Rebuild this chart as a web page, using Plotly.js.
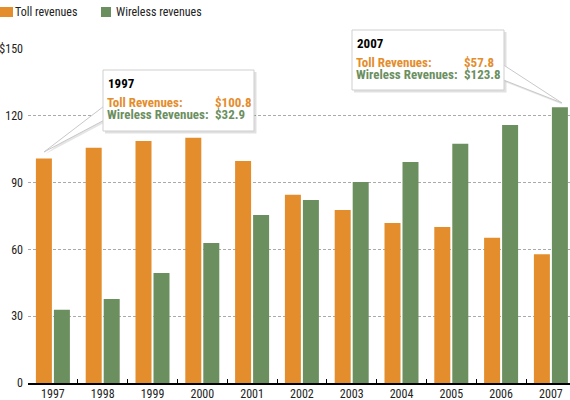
<!DOCTYPE html>
<html>
<head>
<meta charset="utf-8">
<script src="https://cdn.plot.ly/plotly-3.0.1.min.js"></script>
<style>html,body{margin:0;padding:0;background:#fff;overflow:hidden}#chart{width:570px;height:400px}</style>
</head>
<body>
<div id="chart"></div>
<script>
const years = ['1997','1998','1999','2000','2001','2002','2003','2004','2005','2006','2007'];
const tollRevenues = [100.8,105.6,108.7,110.1,99.7,84.5,77.7,71.9,70.1,65.2,57.8];
const wirelessRevenues = [32.9,37.7,49.4,62.9,75.5,82.2,90.3,99.3,107.4,115.9,123.8];
const seriesNames = ['Toll revenues','Wireless revenues'];
const calloutLabels = ['Toll Revenues:','Wireless Revenues:'];
const seriesColors = ['#E48D2D','#6C8F5F'];
const yTickVals = [0,30,60,90,120,150];
const yTickText = ['0','30','60','90','120','$150'];

const FONT = '"Roboto Condensed","Liberation Sans Narrow","Arial Narrow",sans-serif';
const W = 570, H = 400, ML = 28, MR = 0, MT = 49, MB = 17;
const PW = W - ML - MR, PH = H - MT - MB;
const px = x => (x - ML) / PW;
const py = y => (H - MB - y) / PH;
const catW = 49.8;
const xMax = -0.5 + PW / catW;

const traces = [
  {type:'bar', name:seriesNames[0], x:years, y:tollRevenues, marker:{color:seriesColors[0]}, hoverinfo:'skip'},
  {type:'bar', name:seriesNames[1], x:years, y:wirelessRevenues, marker:{color:seriesColors[1]}, hoverinfo:'skip'}
];

const shapes = [];
const annotations = [];

// Legend (manual)
const legendX = [0, 101];
seriesNames.forEach((n, i) => {
  shapes.push({type:'rect', xref:'paper', yref:'paper', x0:px(legendX[i]), x1:px(legendX[i]+(i===0?13:10)), y0:py(17), y1:py(7), fillcolor:seriesColors[i], line:{width:0}, layer:'above'});
  annotations.push({xref:'paper', yref:'paper', x:px(legendX[i]+13), y:py(12), xanchor:'left', yanchor:'middle', text:n, showarrow:false, font:{family:FONT, size:12, color:'#222'}});
});

// Callouts
function poly(pts) {
  return 'M' + pts.map(p => px(p[0]) + ',' + py(p[1])).join('L') + 'Z';
}
function callout(idx, box, wedge, valX) {
  const [x0, y0, x1, y1] = box;
  shapes.push({type:'path', xref:'paper', yref:'paper', path:poly(wedge.map(p=>[p[0]+1.5,p[1]+2])), fillcolor:'rgba(0,0,0,0.10)', line:{width:0}, layer:'above'});
  shapes.push({type:'rect', xref:'paper', yref:'paper', x0:px(x0+2), x1:px(x1+2.5), y0:py(y1+2.5), y1:py(y0+2), fillcolor:'rgba(0,0,0,0.12)', line:{width:0}, layer:'above'});
  shapes.push({type:'path', xref:'paper', yref:'paper', path:poly(wedge), fillcolor:'#fff', line:{color:'#c8c8c8', width:1}, layer:'above'});
  shapes.push({type:'rect', xref:'paper', yref:'paper', x0:px(x0), x1:px(x1), y0:py(y1), y1:py(y0), fillcolor:'#fff', line:{color:'#cfcfcf', width:1}, layer:'above'});
  const vals = [tollRevenues[idx], wirelessRevenues[idx]];
  annotations.push({xref:'paper', yref:'paper', x:px(x0+3), y:py(y0+13.5), xanchor:'left', yanchor:'middle', text:'<b>'+years[idx]+'</b>', showarrow:false, font:{family:FONT, size:13, color:'#000'}});
  for (let k = 0; k < 2; k++) {
    const yy = y0 + 31.7 + k*12.6;
    annotations.push({xref:'paper', yref:'paper', x:px(x0+3), y:py(yy), xanchor:'left', yanchor:'middle', height:12.4, borderpad:0, text:'<b>'+calloutLabels[k]+'</b>', showarrow:false, font:{family:FONT, size:13, color:seriesColors[k]}});
    annotations.push({xref:'paper', yref:'paper', x:px(valX-1), y:py(yy), xanchor:'left', yanchor:'middle', height:12.4, borderpad:0, text:'<b>$'+vals[k].toFixed(1)+'</b>', showarrow:false, font:{family:FONT, size:13, color:seriesColors[k]}});
  }
}
callout(0, [103, 70, 254, 131], [[103.5,106.5],[103.5,120.5],[44,152]], 215);
callout(10, [352, 30, 504, 90], [[503.5,65],[503.5,80],[562,103]], 464);

const layout = {
  width: W, height: H,
  margin: {l:ML, r:MR, t:MT, b:MB, pad:0},
  paper_bgcolor:'#fff', plot_bgcolor:'#fff',
  showlegend:false,
  barmode:'group', bargap:0.277, bargroupgap:0.111,
  font:{family:FONT, size:12, color:'#222'},
  xaxis:{type:'category', range:[-0.5, xMax], showgrid:false, zeroline:false,
    showline:true, linecolor:'#000', linewidth:2,
    ticks:'inside', tickson:'boundaries', ticklen:4, tickwidth:1, tickcolor:'#000',
    tickfont:{family:FONT, size:12, color:'#222'}, ticklabelstandoff:-1, fixedrange:true},
  yaxis:{range:[0,150], tickvals:yTickVals, ticktext:yTickText, showgrid:true,
    gridcolor:'#aaa', griddash:'3px,2px', gridwidth:1, zeroline:false, showline:false, ticks:'',
    tickfont:{family:FONT, size:12, color:'#222'}, ticklabelstandoff:4, fixedrange:true},
  shapes: shapes,
  annotations: annotations
};

Plotly.newPlot('chart', traces, layout, {displayModeBar:false, staticPlot:true});
</script>
</body>
</html>
